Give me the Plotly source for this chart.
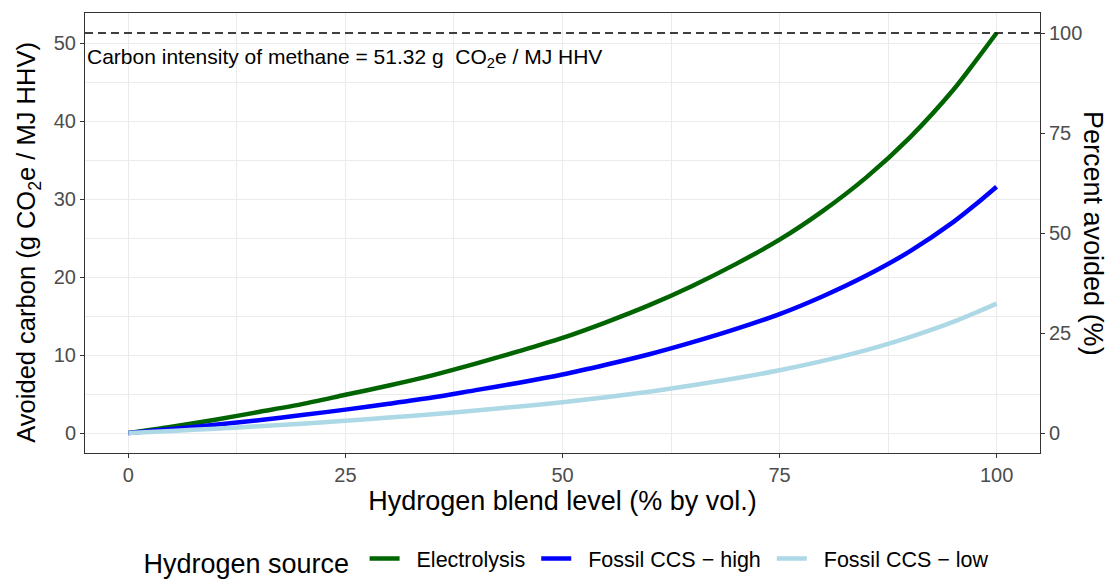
import plotly.graph_objects as go

blend = [0, 5, 10, 15, 20, 25, 30, 35, 40, 45, 50, 55, 60, 65, 70, 75, 80, 85, 90, 95, 97.5, 100]
electrolysis = [0, 0.8, 1.7, 2.7, 3.7, 4.9, 6.1, 7.4, 8.9, 10.5, 12.2, 14.2, 16.4, 18.9, 21.7, 24.8, 28.5, 32.8, 37.9, 44.0, 47.6, 51.32]
ccs_high = [0, 0.5, 1.05, 1.65, 2.3, 3.0, 3.75, 4.55, 5.5, 6.45, 7.5, 8.75, 10.1, 11.65, 13.35, 15.25, 17.55, 20.2, 23.3, 27.05, 29.25, 31.6]
ccs_low = [0, 0.27, 0.55, 0.87, 1.2, 1.58, 1.98, 2.4, 2.88, 3.4, 3.95, 4.6, 5.3, 6.13, 7.03, 8.05, 9.25, 10.63, 12.3, 14.25, 15.4, 16.6]
series_names = ["Electrolysis", "Fossil CCS \u2212 high", "Fossil CCS \u2212 low"]
series_colors = ["#006400", "#0000FF", "#ADD8E6"]
methane_ci = 51.32
x_ticks = [0, 25, 50, 75, 100]
y_ticks = [0, 10, 20, 30, 40, 50]
pct_ticks = [0, 25, 50, 75, 100]

FONT = "Liberation Sans, Arial, sans-serif"
NB = "\u00a0"
fig = go.Figure()
for name, ys, col in zip(series_names, [electrolysis, ccs_high, ccs_low], series_colors):
    fig.add_trace(go.Scatter(x=blend, y=ys, mode="lines", name=NB * 2 + name + NB,
                             line=dict(color=col, width=4.5, shape="spline", smoothing=0.8)))
# invisible trace for secondary axis
fig.add_trace(go.Scatter(x=[0, 100], y=[0, 100], yaxis="y2", mode="markers",
                         marker=dict(opacity=0), showlegend=False, hoverinfo="skip"))

ymin, ymax = -0.05 * methane_ci, 1.05 * methane_ci
fig.add_shape(type="line", xref="paper", x0=0, x1=1, yref="y", y0=methane_ci, y1=methane_ci,
              line=dict(color="black", width=1.5, dash="8px,5px"))
fig.add_annotation(xref="paper", x=0, xanchor="left", yref="y", y=48.1, yanchor="middle",
                   text="Carbon intensity of methane = 51.32 g  CO<sub>2</sub>e / MJ HHV",
                   showarrow=False, font=dict(family=FONT, size=21, color="black"))
fig.add_annotation(xref="paper", x=1.0, xshift=53, xanchor="center", yref="paper", y=0.5,
                   yanchor="middle", text="Percent avoided (%)", textangle=90, showarrow=False,
                   font=dict(family=FONT, size=27, color="black"))
fig.add_annotation(xref="paper", x=0, xshift=-57, xanchor="center", yref="paper", y=0.478,
                   yanchor="middle", text="Avoided carbon (g CO<sub>2</sub>e / MJ HHV)",
                   textangle=-90, showarrow=False, font=dict(family=FONT, size=25.5, color="black"))

axis_common = dict(showline=True, linecolor="#333333", linewidth=1, mirror=True,
                   ticks="outside", ticklen=4, tickcolor="#333333", tickwidth=1,
                   tickfont=dict(family=FONT, size=20, color="#4D4D4D"),
                   gridcolor="#EBEBEB", gridwidth=1.2, zeroline=False)
fig.update_layout(
    width=1112, height=579,
    margin=dict(l=85, r=72, t=13, b=126, autoexpand=False),
    paper_bgcolor="white", plot_bgcolor="white",
    font=dict(family=FONT, color="black"),
    xaxis=dict(range=[-5, 105], tickvals=x_ticks,
               minor=dict(tickvals=[12.5, 37.5, 62.5, 87.5], showgrid=True, gridcolor="#EBEBEB", gridwidth=0.7, ticks=""),
               title=dict(text="Hydrogen blend level (% by vol.)", font=dict(family=FONT, size=27, color="black"), standoff=0),
               **axis_common),
    yaxis=dict(range=[ymin, ymax], tickvals=y_ticks,
               minor=dict(tickvals=[5, 15, 25, 35, 45], showgrid=True, gridcolor="#EBEBEB", gridwidth=0.7, ticks=""),
               **axis_common),
    yaxis2=dict(overlaying="y", side="right", range=[-5, 105], tickvals=pct_ticks,
                showgrid=False, showline=False, zeroline=False,
                ticks="outside", ticklen=4, tickcolor="#333333", tickwidth=1,
                tickfont=dict(family=FONT, size=20, color="#4D4D4D")),
    showlegend=True,
    legend=dict(orientation="h", xref="container", x=0.513, xanchor="center",
                yref="container", y=1 - 561 / 579, yanchor="middle",
                title=dict(text="Hydrogen source ", font=dict(family=FONT, size=27, color="black")),
                font=dict(family=FONT, size=21.5, color="black"), itemwidth=30),
)
fig.write_html("out.html")
